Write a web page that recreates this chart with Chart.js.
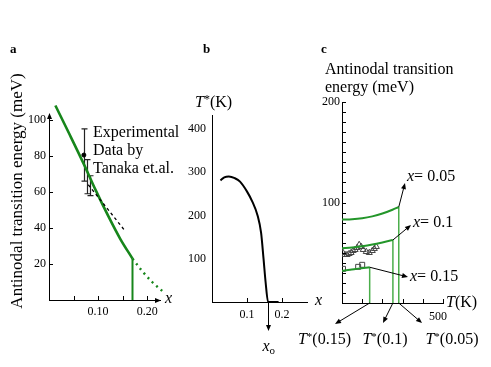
<!DOCTYPE html>
<html><head><meta charset="utf-8">
<script src="https://cdn.jsdelivr.net/npm/chart.js@4"></script>
<style>
html,body{margin:0;padding:0;background:#fff;}
#wrap{position:relative;width:491px;height:367px;overflow:hidden;background:#fff;}
canvas{position:absolute;left:0;top:0;}
</style></head><body>
<div id="wrap">
<canvas id="ca" width="491" height="367"></canvas>
<canvas id="cb" width="491" height="367"></canvas>
<canvas id="cc" width="491" height="367"></canvas>
</div>
<script>
// ---------- Panel a data ----------
const aCurveX = [0.013, 0.04, 0.07, 0.095, 0.12, 0.145, 0.17];
const aCurveY = [108, 93, 76, 61, 47, 34, 23];
const aDotX = [0.17, 0.19, 0.21, 0.235];
const aDotY = [23, 16, 10, 4];
const aDashX = [0.08, 0.156];
const aDashY = [64, 38];
const aVertX = [0.17, 0.17];
const aVertY = [0, 23];
const errX = [0.071, 0.078, 0.084];
const errLo = [66, 59, 58];
const errHi = [95, 78, 69];
const measX = [0.071];
const measY = [80.5];
const aXTicks = [0.10, 0.20];
const aXLabels = ['0.10', '0.20'];
const aXMarks = [0.05, 0.10, 0.15, 0.20];
const aYTicks = [20, 40, 60, 80, 100];
const aYLabels = ['20', '40', '60', '80', '100'];

// ---------- Panel b data ----------
const bX = [0.024, 0.035, 0.048, 0.065, 0.08, 0.1, 0.115, 0.13, 0.14, 0.147, 0.153, 0.16, 0.19];
const bT = [281, 288, 290, 286, 278, 255, 232, 200, 160, 100, 45, 0, 0];
const bXo = 0.16;
const bXTicks = [0.1, 0.2];
const bXLabels = ['0.1', '0.2'];
const bYTicks = [100, 200, 300, 400];
const bYLabels = ['100', '200', '300', '400'];

// ---------- Panel c data ----------
const c05T = [0, 50, 100, 150, 200, 250, 281];
const c05E = [83, 83.3, 84.3, 86.2, 89, 92.8, 95.5];
const c10T = [0, 50, 100, 150, 200, 252];
const c10E = [54.5, 55.2, 56.5, 58.2, 60.3, 62.7];
const c15T = [0, 40, 80, 137];
const c15E = [32, 33, 34.2, 35.6];
const cTstar = [281, 252, 137];       // T*(0.05), T*(0.1), T*(0.15)
const cTstarE = [95.5, 62.7, 35.6];
const cXlabels = ['x= 0.05', 'x= 0.1', 'x= 0.15'];
const triT = [5, 15, 25, 35, 45, 55, 65, 75, 85, 95, 105, 120, 135, 150, 160, 170];
const triE = [50, 48, 48, 49, 50, 52, 53, 55, 58, 56, 53, 51, 50, 52, 54, 56];
const sqT = [5, 80, 100];
const sqE = [34, 36, 38];
const cXTicks = [500];
const cXLabels = ['500'];
const cXMarks = [100, 200, 300, 400, 500];
const cYTicks = [100, 200];
const cYLabels = ['100', '200'];
const cYMarks = [10,20,30,40,50,60,70,80,90,100,110,120,130,140,150,160,170,180,190,200];

const F = 'Liberation Serif';
const pts = (xs, ys) => xs.map((x, i) => ({x: x, y: ys[i]}));

// size = box size reserved for the axis (labels live inside it)
function axis(min, max, ticks, labels, pos, padding, fsize, box, extra) {
  const t = {color: '#000', font: {family: F, size: fsize}, padding: padding, autoSkip: false,
             maxRotation: 0, minRotation: 0, callback: (v, i) => labels[i]};
  Object.assign(t, extra || {});
  return {
    type: 'linear', position: pos, min: min, max: max,
    border: {display: true, color: '#000', width: 1},
    grid: {display: false, drawTicks: false},
    ticks: t,
    afterBuildTicks: s => { s.ticks = ticks.map(v => ({value: v})); },
    afterFit: s => { if (pos === 'bottom') s.height = box; else s.width = box; }
  };
}

function rich(ctx, x, y, parts, align) {
  let w = 0;
  parts.forEach(p => { ctx.font = p[1]; w += ctx.measureText(p[0]).width; });
  let cx = align === 'right' ? x - w : (align === 'center' ? x - w / 2 : x);
  ctx.textAlign = 'left';
  ctx.textBaseline = 'middle';
  parts.forEach(p => { ctx.font = p[1]; ctx.fillText(p[0], cx, y + (p[2] || 0)); cx += ctx.measureText(p[0]).width; });
}

function arrow(ctx, x1, y1, x2, y2, head, hw, color) {
  ctx.save();
  ctx.strokeStyle = color || '#000'; ctx.fillStyle = color || '#000'; ctx.lineWidth = 1;
  const a = Math.atan2(y2 - y1, x2 - x1);
  ctx.beginPath(); ctx.moveTo(x1, y1);
  ctx.lineTo(x2 - Math.cos(a) * head * 0.8, y2 - Math.sin(a) * head * 0.8); ctx.stroke();
  ctx.beginPath(); ctx.moveTo(x2, y2);
  ctx.lineTo(x2 - Math.cos(a) * head - Math.sin(a) * hw, y2 - Math.sin(a) * head + Math.cos(a) * hw);
  ctx.lineTo(x2 - Math.cos(a) * head + Math.sin(a) * hw, y2 - Math.sin(a) * head - Math.cos(a) * hw);
  ctx.closePath(); ctx.fill();
  ctx.restore();
}

function marks(ctx, chart, xMarks, yMarks, len) {
  const xs = chart.scales.x, ys = chart.scales.y, ca = chart.chartArea;
  ctx.save(); ctx.strokeStyle = '#000'; ctx.lineWidth = 1;
  (xMarks || []).forEach(v => {
    const px = Math.round(xs.getPixelForValue(v)) + 0.5;
    ctx.beginPath(); ctx.moveTo(px, ca.bottom); ctx.lineTo(px, ca.bottom - len); ctx.stroke();
  });
  (yMarks || []).forEach(v => {
    const py = Math.round(ys.getPixelForValue(v)) + 0.5;
    ctx.beginPath(); ctx.moveTo(ca.left, py); ctx.lineTo(ca.left + len, py); ctx.stroke();
  });
  ctx.restore();
}

const base = (padding) => ({
  responsive: false, animation: false, devicePixelRatio: 1, events: [],
  layout: {padding: padding},
  plugins: {legend: {display: false}, tooltip: {enabled: false}, title: {display: false}},
  elements: {point: {radius: 0}}
});

// ---------- Chart a ----------  chart area: left 49, top 114, right 160, bottom 300
const optA = base({left: 9, top: 114, right: 331, bottom: 37});
optA.scales = {
  x: axis(0, 0.226, aXTicks, aXLabels, 'bottom', 5, 12, 30),
  y: axis(0, 103.3, aYTicks, aYLabels, 'left', 3, 12, 40)
};
new Chart(document.getElementById('ca'), {
  type: 'line',
  data: {datasets: [
    {data: pts(aDashX, aDashY), borderColor: '#000', borderWidth: 1.3, borderDash: [3, 3], pointRadius: 0},
    {data: pts(aCurveX, aCurveY), borderColor: '#17861b', borderWidth: 2.6, tension: 0.4, cubicInterpolationMode: 'monotone', pointRadius: 0, clip: false},
    {data: pts(aDotX, aDotY), borderColor: '#17861b', borderWidth: 2.4, borderDash: [2, 4], tension: 0.4, cubicInterpolationMode: 'monotone', pointRadius: 0, clip: false},
    {data: pts(aVertX, aVertY), borderColor: '#17861b', borderWidth: 2, pointRadius: 0},
    {data: pts(measX, measY), showLine: false, pointRadius: 2, pointBackgroundColor: '#000', pointBorderColor: '#000'}
  ]},
  options: optA,
  plugins: [{
    id: 'annA',
    beforeDatasetsDraw(chart) {
      const ctx = chart.ctx, xs = chart.scales.x, ys = chart.scales.y;
      ctx.save(); ctx.strokeStyle = '#222'; ctx.lineWidth = 1.2;
      errX.forEach((x, i) => {
        const px = Math.round(xs.getPixelForValue(x)) + 0.5;
        const p1 = ys.getPixelForValue(errHi[i]), p2 = ys.getPixelForValue(errLo[i]);
        ctx.beginPath(); ctx.moveTo(px, p1); ctx.lineTo(px, p2);
        ctx.moveTo(px - 3, p1); ctx.lineTo(px + 3, p1);
        ctx.moveTo(px - 3, p2); ctx.lineTo(px + 3, p2); ctx.stroke();
      });
      ctx.restore();
    },
    afterDraw(chart) {
      const ctx = chart.ctx, ca = chart.chartArea;
      marks(ctx, chart, aXMarks, aYTicks, 4);
      arrow(ctx, ca.left + 0.5, ca.top + 5, ca.left + 0.5, ca.top - 1, 6, 2.5);
      arrow(ctx, ca.right - 5, ca.bottom + 0.5, ca.right + 1, ca.bottom + 0.5, 6, 2.5);
      ctx.fillStyle = '#000';
      rich(ctx, 10, 50, [['a', 'bold 13px ' + F]]);
      rich(ctx, 165, 299, [['x', 'italic 16px ' + F]]);
      rich(ctx, 93, 133, [['Experimental', '16px ' + F]]);
      rich(ctx, 93, 151, [['Data by', '16px ' + F]]);
      rich(ctx, 93, 169, [['Tanaka et.al.', '16px ' + F]]);
      ctx.save(); ctx.translate(18, 191); ctx.rotate(-Math.PI / 2);
      rich(ctx, 0, 0, [['Antinodal transition energy (meV)', '17px ' + F]], 'center');
      ctx.restore();
    }
  }]
});

// ---------- Chart b ----------  chart area: left 212, top 115, right 307, bottom 302
const optB = base({left: 172, top: 115, right: 184, bottom: 35});
optB.scales = {
  x: axis(0, 0.271, bXTicks, bXLabels, 'bottom', 6, 12, 30),
  y: axis(0, 432, bYTicks, bYLabels, 'left', 6, 12, 40)
};
new Chart(document.getElementById('cb'), {
  type: 'line',
  data: {datasets: [
    {data: pts(bX, bT), borderColor: '#000', borderWidth: 2, tension: 0.4, cubicInterpolationMode: 'monotone', pointRadius: 0}
  ]},
  options: optB,
  plugins: [{
    id: 'annB',
    afterDraw(chart) {
      const ctx = chart.ctx, xs = chart.scales.x, ca = chart.chartArea;
      marks(ctx, chart, bXTicks, [], 4);
      const px = Math.round(xs.getPixelForValue(bXo)) + 0.5;
      arrow(ctx, px, ca.bottom, px, 331, 6, 2.5);
      ctx.fillStyle = '#000';
      rich(ctx, 203, 50, [['b', 'bold 13px ' + F]]);
      rich(ctx, 195, 103, [['T', 'italic 16px ' + F], ['*', '12px ' + F, -3], ['(K)', '16px ' + F]]);
      rich(ctx, 315, 301, [['x', 'italic 16px ' + F]]);
      rich(ctx, px - 6, 347, [['x', 'italic 16px ' + F], ['o', '11px ' + F, 4]]);
    }
  }]
});

// ---------- Chart c ----------  chart area: left 342, top 102, right 443, bottom 303
const optC = base({left: 312, top: 102, right: 48, bottom: 39});
optC.scales = {
  x: axis(0, 500, cXTicks, cXLabels, 'bottom', 7, 12, 25, {labelOffset: -5}),
  y: axis(0, 200, cYTicks, cYLabels, 'left', 2, 12, 30)
};
const green = '#23962a';
new Chart(document.getElementById('cc'), {
  type: 'line',
  data: {datasets: [
    {data: pts(c05T, c05E), borderColor: green, borderWidth: 2, tension: 0.4, cubicInterpolationMode: 'monotone', pointRadius: 0},
    {data: pts(c10T, c10E), borderColor: green, borderWidth: 2, tension: 0.4, cubicInterpolationMode: 'monotone', pointRadius: 0},
    {data: pts(c15T, c15E), borderColor: green, borderWidth: 2, tension: 0.4, cubicInterpolationMode: 'monotone', pointRadius: 0},
    {data: pts([cTstar[0], cTstar[0]], [0, cTstarE[0]]), borderColor: '#4aae4a', borderWidth: 1.5, pointRadius: 0},
    {data: pts([cTstar[1], cTstar[1]], [0, cTstarE[1]]), borderColor: '#4aae4a', borderWidth: 1.5, pointRadius: 0},
    {data: pts([cTstar[2], cTstar[2]], [0, cTstarE[2]]), borderColor: '#4aae4a', borderWidth: 1.5, pointRadius: 0},
    {data: pts(triT, triE), showLine: false, pointStyle: 'triangle', pointRadius: 3.5, pointBorderWidth: 1, pointBorderColor: '#444', pointBackgroundColor: 'rgba(255,255,255,0)'},
    {data: pts(sqT, sqE), showLine: false, pointStyle: 'rect', pointRadius: 3.5, pointBorderWidth: 1, pointBorderColor: '#444', pointBackgroundColor: 'rgba(255,255,255,0)'}
  ]},
  options: optC,
  plugins: [{
    id: 'annC',
    afterDraw(chart) {
      const ctx = chart.ctx, xs = chart.scales.x, ys = chart.scales.y, ca = chart.chartArea;
      marks(ctx, chart, cXMarks, cYMarks, 4);
      ctx.fillStyle = '#000';
      rich(ctx, 321, 50, [['c', 'bold 13px ' + F]]);
      rich(ctx, 325, 70, [['Antinodal transition', '16px ' + F]]);
      rich(ctx, 325, 88, [['energy (meV)', '16px ' + F]]);
      rich(ctx, 446, 303, [['T', 'italic 16px ' + F], ['(K)', '16px ' + F]]);
      const ends = [[405, 183, 177], [411, 225, 223], [408, 277, 277]];
      cTstar.forEach((t, i) => {
        const px = xs.getPixelForValue(t), py = ys.getPixelForValue(cTstarE[i]);
        arrow(ctx, px, py, ends[i][0], ends[i][1], 6, 2.5);
        const lab = cXlabels[i];
        rich(ctx, ends[i][0] + 2, ends[i][2], [['x', 'italic 16px ' + F], [lab.slice(1), '16px ' + F]]);
      });
      const bEnds = [[422, 323], [383, 323], [335, 324]];
      const tLab = ['(0.05)', '(0.1)', '(0.15)'];
      const tPos = [[452, 'center'], [385, 'center'], [351, 'right']];
      cTstar.forEach((t, i) => {
        const px = xs.getPixelForValue(t);
        arrow(ctx, px, ca.bottom, bEnds[i][0], bEnds[i][1], 6, 2.5);
        rich(ctx, tPos[i][0], 340, [['T', 'italic 16px ' + F], ['*', '11px ' + F, -3], [tLab[i], '16px ' + F]], tPos[i][1]);
      });
    }
  }]
});
</script>
</body></html>
